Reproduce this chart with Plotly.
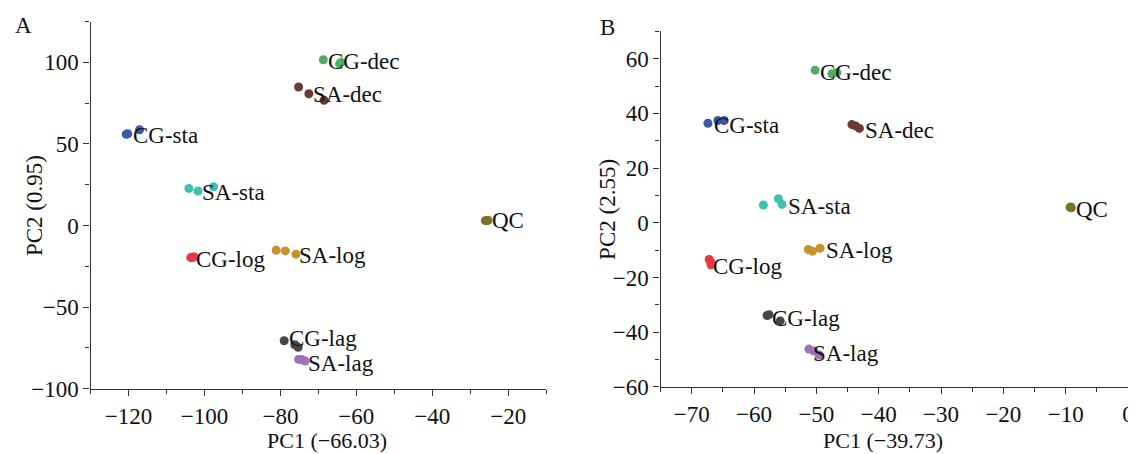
import plotly.graph_objects as go
import numpy as np

groups = ["CG-dec", "SA-dec", "CG-sta", "SA-sta", "QC", "CG-log", "SA-log", "CG-lag", "SA-lag"]
colors = ["#4caf63", "#6e3a35", "#3d5aa8", "#3fc0b0", "#7a7428", "#e53a40", "#c9912b", "#4a4545", "#9b73b8"]

# Panel A scores (PC1, PC2)
a_pc1 = {
    "CG-dec": [-68.7, -64.4, -64.0],
    "SA-dec": [-75.2, -72.5, -68.5],
    "CG-sta": [-120.6, -120.2, -117.1],
    "SA-sta": [-104.1, -101.7, -97.6],
    "QC": [-26.0, -25.6, -25.3],
    "CG-log": [-103.6, -103.1, -102.7],
    "SA-log": [-81.1, -78.7, -75.9],
    "CG-lag": [-79.0, -76.2, -75.3],
    "SA-lag": [-75.2, -74.4, -73.5],
}
a_pc2 = {
    "CG-dec": [101.6, 99.2, 100.0],
    "SA-dec": [84.9, 80.8, 76.8],
    "CG-sta": [56.0, 56.3, 58.7],
    "SA-sta": [22.8, 21.2, 23.8],
    "QC": [3.0, 3.0, 3.2],
    "CG-log": [-19.6, -19.4, -19.2],
    "SA-log": [-15.1, -15.5, -17.5],
    "CG-lag": [-70.6, -73.0, -74.6],
    "SA-lag": [-82.0, -82.0, -83.0],
}

# Panel B scores (PC1, PC2)
b_pc1 = {
    "CG-dec": [-50.2, -47.5, -46.7],
    "SA-dec": [-44.3, -43.7, -43.1],
    "CG-sta": [-67.4, -65.8, -64.8],
    "SA-sta": [-58.5, -56.1, -55.5],
    "QC": [-9.3, -9.2, -9.1],
    "CG-log": [-67.2, -66.9, -66.9],
    "SA-log": [-51.3, -50.6, -49.4],
    "CG-lag": [-57.9, -57.6, -55.8],
    "SA-lag": [-51.2, -50.4, -49.5],
}
b_pc2 = {
    "CG-dec": [55.8, 54.5, 54.9],
    "SA-dec": [35.9, 35.4, 34.5],
    "CG-sta": [36.4, 37.4, 37.4],
    "SA-sta": [6.5, 8.8, 6.7],
    "QC": [5.6, 5.8, 5.5],
    "CG-log": [-13.4, -14.5, -15.4],
    "SA-log": [-9.8, -10.4, -9.3],
    "CG-lag": [-33.9, -33.6, -35.9],
    "SA-lag": [-46.2, -46.9, -48.4],
}

a_xtitle = "PC1 (−66.03)"
a_ytitle = "PC2 (0.95)"
b_xtitle = "PC1 (−39.73)"
b_ytitle = "PC2 (2.55)"

# label nudges in screen pixels (x right, y up), relative to group centroid
a_nudge = {"CG-dec": (-6, 0), "SA-dec": (3, -1), "CG-sta": (3, -3), "SA-sta": (3, -4),
           "QC": (6, 0), "CG-log": (4, -2), "SA-log": (14, -4), "CG-lag": (-2, 6),
           "SA-lag": (7, -4)}
b_nudge = {"CG-dec": (-7, 0), "SA-dec": (10, -4), "CG-sta": (-2, -4), "SA-sta": (14, -4),
           "QC": (6, -2), "CG-log": (4, -4), "SA-log": (13, -1), "CG-lag": (1, -1),
           "SA-lag": (0, -2)}

FONT = "Liberation Serif, Times New Roman, serif"
FS = 23
W, H = 1136, 454

fig = go.Figure()

def add_panel(pc1, pc2, xa, ya, nudge):
    for g, c in zip(groups, colors):
        fig.add_trace(go.Scatter(
            x=pc1[g], y=pc2[g], mode="markers", xaxis=xa, yaxis=ya,
            marker=dict(size=9, color=c, line=dict(width=0)),
            showlegend=False, hoverinfo="skip"))
    for g in groups:
        dx, dy = nudge[g]
        fig.add_annotation(
            x=float(np.mean(pc1[g])), y=float(np.mean(pc2[g])), xref=xa, yref=ya,
            text=g, showarrow=False, xanchor="left", yanchor="middle",
            xshift=dx - 2, yshift=dy, borderpad=0,
            font=dict(family=FONT, size=FS, color="#111"))

add_panel(a_pc1, a_pc2, "x", "y", a_nudge)
add_panel(b_pc1, b_pc2, "x2", "y2", b_nudge)

ax_common = dict(
    showgrid=False, zeroline=False, showline=True, linecolor="#333", linewidth=1.4,
    ticks="outside", ticklen=6, tickwidth=1.2, tickcolor="#333",
    tickfont=dict(family=FONT, size=FS, color="#111"),
    minor=dict(ticks="outside", ticklen=4, tickwidth=1.2, tickcolor="#333"),
    mirror=False,
)

def px_x(p):
    return p / W

def px_y(p):
    return 1 - p / H

fig.update_layout(
    width=W, height=H,
    margin=dict(l=0, r=0, t=0, b=0),
    paper_bgcolor="white", plot_bgcolor="white",
    xaxis=dict(ax_common, domain=[px_x(83), px_x(541)], range=[-130, -10],
               dtick=20, tick0=-120, minor=dict(ax_common["minor"], dtick=10), anchor="y"),
    yaxis=dict(ax_common, domain=[px_y(392), px_y(14)], range=[-100, 125],
               dtick=50, tick0=0, minor=dict(ax_common["minor"], dtick=25), anchor="x"),
    xaxis2=dict(ax_common, domain=[px_x(656), px_x(1126)], range=[-75, 0],
                dtick=10, tick0=0, minor=dict(ax_common["minor"], dtick=5), anchor="y2"),
    yaxis2=dict(ax_common, domain=[px_y(390), px_y(24)], range=[-60, 70],
                dtick=20, tick0=0, minor=dict(ax_common["minor"], dtick=10), anchor="x2"),
    font=dict(family=FONT, size=FS, color="#111"),
)

ann = [
    dict(text="A", x=px_x(16), y=px_y(18)),
    dict(text="B", x=px_x(603), y=px_y(20)),
    dict(text=a_xtitle, x=px_x(321), y=px_y(445), size=22),
    dict(text=b_xtitle, x=px_x(880), y=px_y(445), size=22),
    dict(text=a_ytitle, x=px_x(26), y=px_y(203), textangle=-90),
    dict(text=b_ytitle, x=px_x(602), y=px_y(207), textangle=-90),
]
for a in ann:
    sz = a.pop("size", FS)
    fig.add_annotation(xref="paper", yref="paper", showarrow=False,
                       xanchor="center", yanchor="middle",
                       font=dict(family=FONT, size=sz, color="#111"), **a)

fig.write_html("out.html")
